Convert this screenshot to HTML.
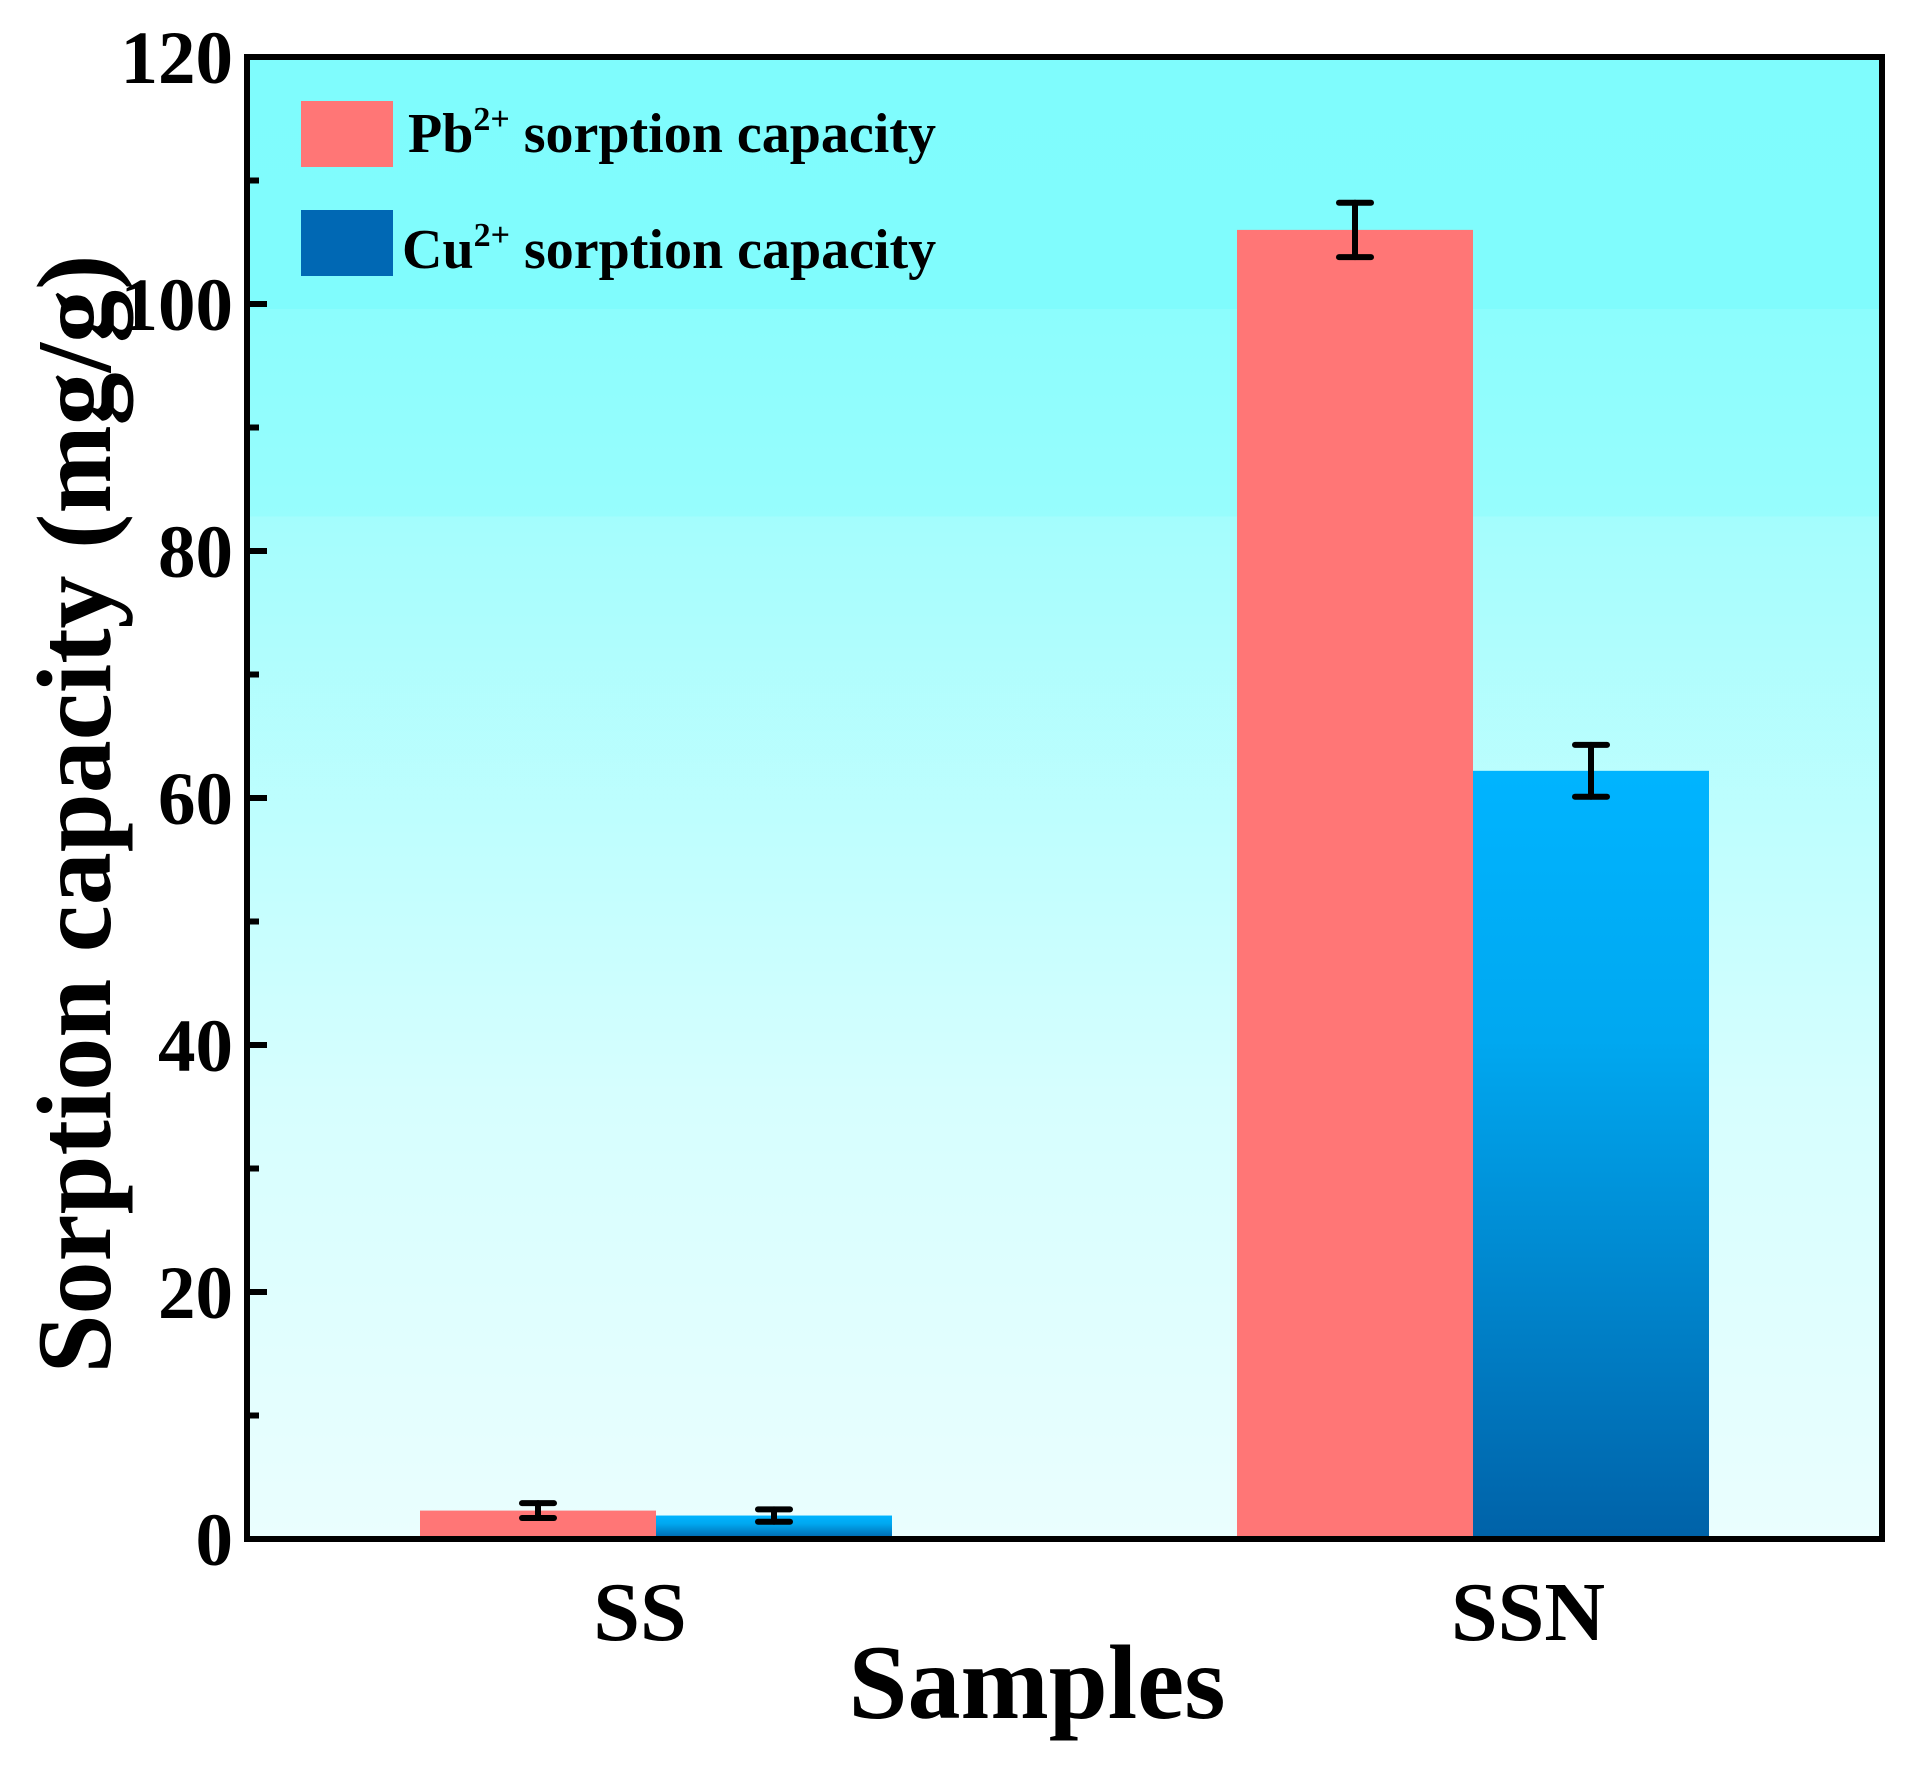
<!DOCTYPE html>
<html><head><meta charset="utf-8"><style>
html,body{margin:0;padding:0;background:#fff}
svg{display:block;font-family:"Liberation Serif",serif;font-weight:bold}
</style></head><body>
<svg id="chart" width="1913" height="1775" viewBox="0 0 1913 1775">
<defs>
<linearGradient id="bg" x1="0" y1="0" x2="0" y2="1">
<stop offset="0" stop-color="#7ffcfd"/><stop offset="0.17" stop-color="#80fcfd"/><stop offset="0.17" stop-color="#8cfdfd"/><stop offset="0.31" stop-color="#97fdfd"/><stop offset="0.31" stop-color="#a4fdfd"/><stop offset="0.7" stop-color="#d6fefe"/><stop offset="1" stop-color="#eafefe"/>
</linearGradient>
<linearGradient id="blueg" x1="0" y1="0" x2="0" y2="1">
<stop offset="0" stop-color="#00b4ff"/><stop offset="0.35" stop-color="#00a8f0"/><stop offset="1" stop-color="#0062a8"/>
</linearGradient>
</defs>
<rect x="247" y="57" width="1635" height="1482" fill="url(#bg)"/>
<g id="bars"></g>
<g id="ticks"></g>
<rect x="247" y="57" width="1635" height="1482" fill="none" stroke="#000" stroke-width="6"/>
<rect x="301" y="101" width="92" height="66" fill="#ff7676"/>
<text x="408" y="152" font-size="56">Pb<tspan font-size="34" dy="-22">2+</tspan><tspan dy="22"> sorption capacity</tspan></text>
<rect x="301" y="210" width="92" height="66" fill="#0068b4"/>
<text x="402" y="268" font-size="56">Cu<tspan font-size="34" dy="-22">2+</tspan><tspan dy="22"> sorption capacity</tspan></text>
<text x="1037" y="1718" font-size="106" text-anchor="middle">Samples</text>
<text transform="translate(110,814) rotate(-90)" font-size="106" text-anchor="middle">Sorption capacity (mg/g)</text>
</svg>
<script>
const categories=["SS","SSN"];
const pbValues=[2.3,106.0];
const pbErrors=[0.6,2.2];
const cuValues=[1.9,62.2];
const cuErrors=[0.5,2.1];
const yTicks=[0,20,40,60,80,100,120];
const yMinorTicks=[10,30,50,70,90,110];
const NS="http://www.w3.org/2000/svg";
const X0=247,X1=1882,Y0=1539,Y1=57,YMAX=120;
function y(v){return Y0-(v/YMAX)*(Y0-Y1);}
const groupCenters=[656,1473];
const labelCenters=[640,1528];
const barW=236;
function xCat(i){return groupCenters[i];}
function mk(tag,attrs,parent){const e=document.createElementNS(NS,tag);for(const k in attrs)e.setAttribute(k,attrs[k]);parent.appendChild(e);return e;}
const bars=document.getElementById('bars');
const ticks=document.getElementById('ticks');
function errbar(cx,v,err){
  const g=mk('g',{stroke:'#000','stroke-width':6,'stroke-linecap':'round'},bars);
  
  
  mk('line',{x1:cx,x2:cx,y1:y(v+err),y2:y(v-err)},g);
  mk('line',{x1:cx-16,x2:cx+16,y1:y(v+err),y2:y(v+err)},g);
  mk('line',{x1:cx-16,x2:cx+16,y1:y(v-err),y2:y(v-err)},g);
}
categories.forEach((c,i)=>{
  const cx=xCat(i);
  const p=mk('rect',{x:cx-barW,y:y(pbValues[i]),width:barW,height:Y0-y(pbValues[i]),fill:'#ff7676'},bars);
  
  
  const b=mk('rect',{x:cx,y:y(cuValues[i]),width:barW,height:Y0-y(cuValues[i]),fill:'url(#blueg)'},bars);
  
  
  errbar(cx-barW/2,pbValues[i],pbErrors[i]);
  errbar(cx+barW/2,cuValues[i],cuErrors[i]);
  const t=mk('text',{x:labelCenters[i],y:1640,'font-size':84,'text-anchor':'middle'},ticks);
  t.textContent=c;
  
  
});
yTicks.forEach(v=>{
  const l=mk('line',{x1:X0,x2:X0+20,y1:y(v),y2:y(v),stroke:'#000','stroke-width':6},ticks);
  
  
  const t=mk('text',{x:233,y:y(v)+26,'font-size':75,'text-anchor':'end'},ticks);
  t.textContent=v;
  
  
});
yMinorTicks.forEach(v=>{
  const l=mk('line',{x1:X0,x2:X0+12,y1:y(v),y2:y(v),stroke:'#000','stroke-width':6},ticks);
  
  
});
</script>
</body></html>
